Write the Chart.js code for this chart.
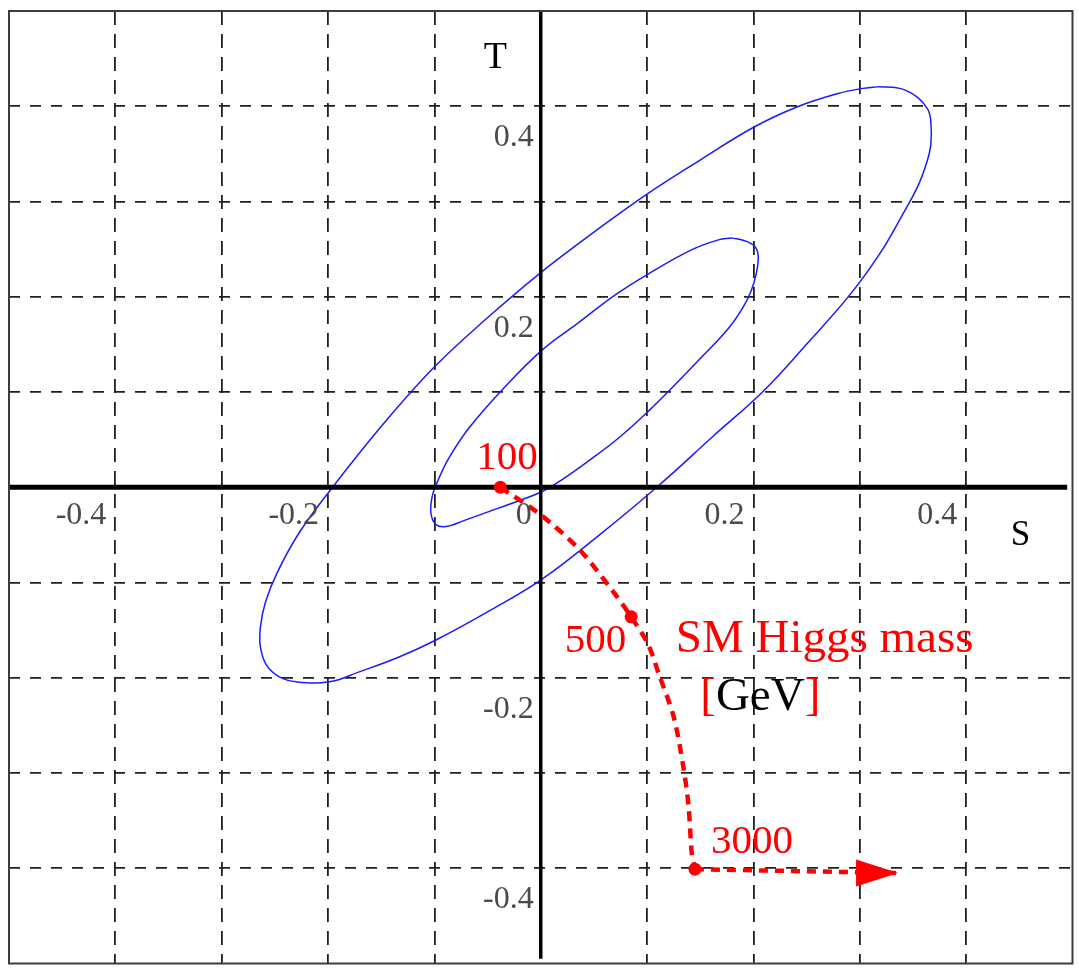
<!DOCTYPE html>
<html>
<head>
<meta charset="utf-8">
<script src="https://cdn.jsdelivr.net/npm/chart.js@4.4.1/dist/chart.umd.min.js"></script>
<style>
  html, body { margin: 0; padding: 0; background: #ffffff; }
  canvas { display: block; }
</style>
</head>
<body>
<canvas id="st" width="1079" height="970"></canvas>
<script>
// Outer allowed region in the S-T plane (traced contour, closed below)
const outerS = [0.319, 0.3386, 0.3546, 0.3640, 0.3668, 0.3668, 0.3630, 0.3546, 0.3405, 0.3199, 0.2908, 0.2514, 0.2092, 0.1623, 0.1107, 0.0544, 0.0009, -0.0488, -0.0985, -0.1332, -0.1707, -0.1989, -0.2298, -0.2458, -0.2580, -0.2636, -0.2636, -0.2589, -0.2477, -0.2270, -0.1961, -0.1473, -0.0994, -0.0488, 0.0009, 0.0516, 0.1013, 0.1510, 0.1998, 0.2420, 0.2795, 0.3011];
const outerT = [0.4206, 0.4185, 0.4091, 0.3966, 0.3840, 0.3600, 0.3412, 0.3161, 0.2868, 0.2471, 0.2022, 0.1520, 0.1008, 0.0538, 0.0016, -0.0507, -0.0967, -0.1301, -0.1604, -0.1782, -0.1938, -0.2043, -0.2043, -0.1991, -0.1865, -0.1677, -0.1468, -0.1207, -0.0893, -0.0475, -0.0005, 0.0674, 0.1270, 0.1792, 0.2262, 0.2691, 0.3088, 0.3443, 0.3777, 0.3997, 0.4133, 0.4185];

// Inner allowed region
const innerS = [0.1792, 0.1923, 0.2017, 0.2045, 0.2026, 0.1979, 0.1895, 0.1764, 0.1529, 0.1276, 0.1013, 0.0732, 0.0450, 0.0197, 0.0009, -0.0206, -0.0488, -0.0722, -0.0891, -0.0985, -0.1032, -0.1023, -0.0976, -0.0863, -0.0675, -0.0366, 0.0009, 0.0356, 0.0704, 0.1013, 0.1417, 0.1670];
const innerT = [0.2618, 0.2586, 0.2523, 0.2419, 0.2241, 0.2064, 0.1876, 0.1667, 0.1385, 0.1092, 0.0799, 0.0517, 0.0277, 0.0078, -0.0047, -0.0141, -0.0256, -0.0350, -0.0413, -0.0392, -0.0277, -0.0110, 0.0047, 0.0308, 0.0622, 0.1019, 0.1437, 0.1729, 0.2022, 0.2241, 0.2492, 0.2597];

// Standard Model prediction as the Higgs mass grows (GeV); null = no marker
const higgsS    = [-0.038, 0.000, 0.036, 0.067, 0.085, 0.101, 0.111, 0.125, 0.134, 0.139, 0.142, 0.145];
const higgsT    = [0.000, -0.029, -0.065, -0.108, -0.136, -0.165, -0.196, -0.241, -0.293, -0.335, -0.384, -0.401];
const higgsMass = [100, null, null, null, 500, null, null, null, null, null, null, 3000];

// Continuation arrow beyond 3000 GeV
const arrowS = [0.145, 0.336];
const arrowT = [-0.401, -0.405];

// Axis ranges and tick labels
const axisRange = [-0.5, 0.5];
const sTicks = [-0.4, -0.2, 0, 0.2, 0.4];
const sTickLabels = ['-0.4', '-0.2', '0', '0.2', '0.4'];
const tTicks = [0.4, 0.2, -0.2, -0.4];
const tTickLabels = ['0.4', '0.2', '-0.2', '-0.4'];

const pts = (xs, ys) => xs.map((x, i) => ({ x: x, y: ys[i] }));
const closed = (xs, ys) => { const p = pts(xs, ys); p.push({ ...p[0] }); return p; };

const RED = '#ff0000';
const BLUE = '#1a1aff';
const SERIF = '"Liberation Serif", "Times New Roman", serif';

const gridColor = (ctx) => {
  const v = ctx.tick ? ctx.tick.value : 0;
  if (Math.abs(v) < 1e-9 || Math.abs(Math.abs(v) - 0.5) < 1e-9) return 'rgba(0,0,0,0)';
  return '#202020';
};

const decor = {
  id: 'decor',
  afterDraw(chart) {
    const { ctx, chartArea: a, scales: { x, y } } = chart;
    ctx.save();

    // frame
    ctx.strokeStyle = '#3c3c3c';
    ctx.lineWidth = 2;
    ctx.strokeRect(a.left, a.top, a.right - a.left, a.bottom - a.top);

    // arrow head at the end of the continuation line
    const tipX = x.getPixelForValue(arrowS[arrowS.length - 1]);
    const tipY = y.getPixelForValue(arrowT[arrowT.length - 1]);
    ctx.fillStyle = RED;
    ctx.beginPath();
    ctx.moveTo(tipX, tipY);
    ctx.lineTo(tipX - 42, tipY - 13.5);
    ctx.lineTo(tipX - 42, tipY + 13.5);
    ctx.closePath();
    ctx.fill();

    // tick labels
    const y0 = y.getPixelForValue(0);
    const x0 = x.getPixelForValue(0);
    ctx.font = '32px ' + SERIF;
    ctx.fillStyle = '#4a4a4a';
    ctx.textBaseline = 'alphabetic';
    ctx.textAlign = 'right';
    sTicks.forEach((v, i) => {
      ctx.fillText(sTickLabels[i], x.getPixelForValue(v) - 9, y0 + 37);
    });
    tTicks.forEach((v, i) => {
      ctx.fillText(tTickLabels[i], x0 - 7, y.getPixelForValue(v) + 40);
    });

    // axis titles
    ctx.fillStyle = '#000';
    ctx.textAlign = 'left';
    ctx.font = '38px ' + SERIF;
    ctx.fillText('T', x.getPixelForValue(-0.0535), y.getPixelForValue(0.440));
    ctx.font = '35px ' + SERIF;
    ctx.fillText('S', x.getPixelForValue(0.442), y.getPixelForValue(-0.061));

    // mass labels next to the marked points
    ctx.font = '41px ' + SERIF;
    ctx.fillStyle = RED;
    const offsets = { 100: [-24, -18, 'left'], 500: [-5, 35, 'right'], 3000: [16, -16, 'left'] };
    higgsMass.forEach((m, i) => {
      if (m == null) return;
      const o = offsets[m];
      ctx.textAlign = o[2];
      ctx.fillText(String(m), x.getPixelForValue(higgsS[i]) + o[0], y.getPixelForValue(higgsT[i]) + o[1]);
    });

    // curve caption
    ctx.textAlign = 'left';
    ctx.font = '47px ' + SERIF;
    ctx.fillText('SM Higgs mass', x.getPixelForValue(0.127), y.getPixelForValue(-0.173));
    let gx = x.getPixelForValue(0.150);
    const gy = y.getPixelForValue(-0.2335);
    const parts = [['[', RED], ['GeV', '#000'], [']', RED]];
    parts.forEach(([t, c]) => {
      ctx.fillStyle = c;
      ctx.fillText(t, gx, gy);
      gx += ctx.measureText(t).width;
    });

    ctx.restore();
  }
};

new Chart(document.getElementById('st'), {
  type: 'scatter',
  data: {
    datasets: [
      {
        label: 'SM Higgs',
        data: pts(higgsS, higgsT),
        showLine: true,
        borderColor: RED,
        borderWidth: 4.5,
        borderDash: [10, 7],
        tension: 0.3,
        pointRadius: higgsMass.map(m => (m == null ? 0 : 6.5)),
        pointBackgroundColor: RED,
        pointBorderWidth: 0,
        order: 0
      },
      {
        label: 'beyond 3000',
        data: pts(arrowS, arrowT),
        showLine: true,
        borderColor: RED,
        borderWidth: 4.5,
        borderDash: [9, 7],
        pointRadius: 0,
        order: 0
      },
      {
        label: 'S axis',
        data: [{ x: axisRange[0], y: 0 }, { x: 0.495, y: 0 }],
        showLine: true,
        borderColor: '#000',
        borderWidth: 5,
        pointRadius: 0,
        order: 1
      },
      {
        label: 'T axis',
        data: [{ x: 0, y: axisRange[1] }, { x: 0, y: -0.495 }],
        showLine: true,
        borderColor: '#000',
        borderWidth: 3.5,
        pointRadius: 0,
        order: 1
      },
      {
        label: 'outer',
        data: closed(outerS, outerT),
        showLine: true,
        borderColor: BLUE,
        borderWidth: 1.5,
        tension: 0.4,
        pointRadius: 0,
        order: 2
      },
      {
        label: 'inner',
        data: closed(innerS, innerT),
        showLine: true,
        borderColor: BLUE,
        borderWidth: 1.5,
        tension: 0.4,
        pointRadius: 0,
        order: 2
      }
    ]
  },
  options: {
    responsive: false,
    animation: false,
    devicePixelRatio: 1,
    events: [],
    layout: { padding: { left: 9, top: 11, right: 4, bottom: 2 } },
    plugins: { legend: { display: false }, tooltip: { enabled: false } },
    scales: {
      x: {
        type: 'linear',
        min: axisRange[0],
        max: axisRange[1],
        ticks: { display: false, stepSize: 0.1 },
        grid: { color: gridColor, lineWidth: 1.8, drawTicks: false },
        border: { display: false, dash: [14, 9] }
      },
      y: {
        type: 'linear',
        min: axisRange[0],
        max: axisRange[1],
        ticks: { display: false, stepSize: 0.1 },
        grid: { color: gridColor, lineWidth: 1.8, drawTicks: false },
        border: { display: false, dash: [11, 10] }
      }
    }
  },
  plugins: [decor]
});
</script>
</body>
</html>
